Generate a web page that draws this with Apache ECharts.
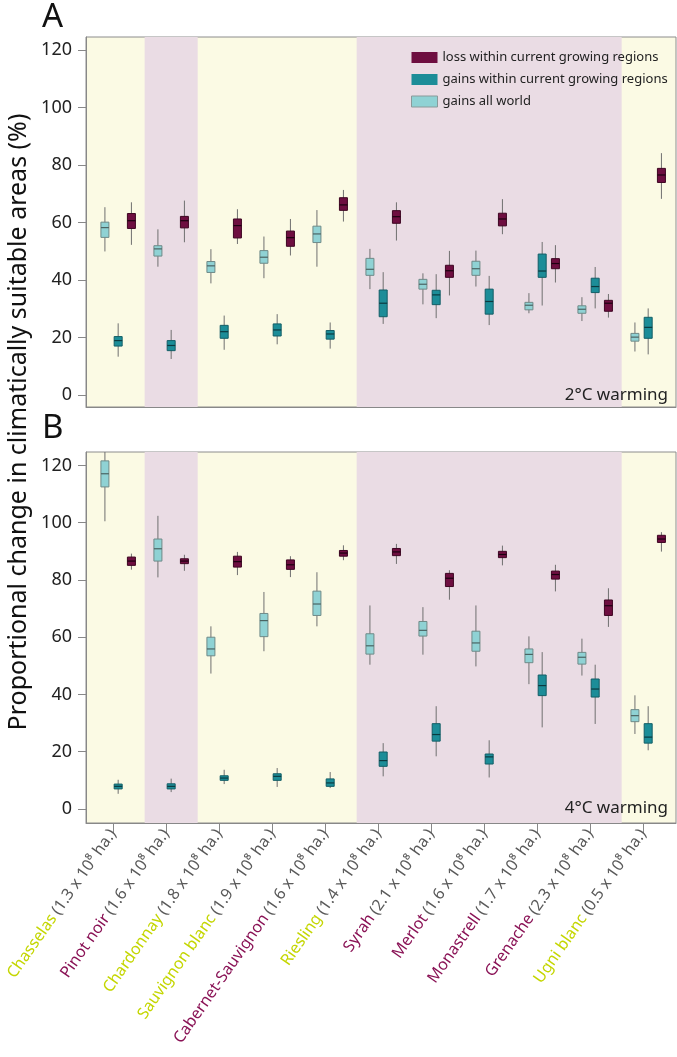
<!DOCTYPE html>
<html>
<head>
<meta charset="utf-8">
<script src="https://cdn.jsdelivr.net/npm/echarts@6/dist/echarts.min.js"></script>
<style>
html, body { margin: 0; padding: 0; background: #fff; }
#chartBox { width: 677px; height: 1057px; }
</style>
</head>
<body>
<div id="chartBox"></div>
<script>
// x axis: grape varieties and their current area
var varieties = ['Chasselas', 'Pinot noir', 'Chardonnay', 'Sauvignon blanc', 'Cabernet-Sauvignon',
  'Riesling', 'Syrah', 'Merlot', 'Monastrell', 'Grenache', 'Ugni blanc'];
var areas = ['1.3', '1.6', '1.8', '1.9', '1.6', '1.4', '2.1', '1.6', '1.7', '2.3', '0.5'];
var wineType = ['w', 'r', 'w', 'w', 'r', 'w', 'r', 'r', 'r', 'r', 'w'];   // label colour
var bandType = ['w', 'r', 'w', 'w', 'w', 'r', 'r', 'r', 'r', 'r', 'w'];   // background band
var yTicks = [0, 20, 40, 60, 80, 100, 120];

// boxes: [min, q1, median, q3, max]
// A - 2°C warming
var lossA = [
  [52.2, 57.9, 60.6, 63.1, 67.0], [53.1, 58.1, 60.6, 62.1, 67.6], [52.5, 54.6, 58.9, 61.2, 64.6],
  [48.5, 51.7, 54.7, 57.0, 61.2], [60.3, 64.2, 66.1, 68.6, 71.3], [53.7, 59.7, 62.0, 64.1, 67.0],
  [34.6, 40.9, 43.2, 45.1, 50.1], [55.9, 58.8, 61.2, 63.2, 68.1], [39.1, 43.9, 45.7, 47.4, 52.1],
  [26.9, 29.1, 31.9, 32.9, 35.1], [68.2, 73.9, 76.5, 78.8, 84.1]
];
var gainsInA = [
  [13.3, 17.0, 18.9, 20.3, 24.9], [12.5, 15.4, 17.2, 18.9, 22.6], [15.7, 19.7, 22.0, 24.2, 27.6],
  [17.6, 20.5, 22.6, 24.7, 28.1], [16.1, 19.4, 21.2, 22.4, 25.2], [24.7, 27.2, 31.9, 36.5, 42.7],
  [26.7, 31.4, 34.8, 36.4, 42.0], [24.3, 28.1, 32.5, 36.8, 41.4], [31.1, 40.9, 43.1, 49.0, 53.2],
  [30.1, 35.6, 37.7, 40.6, 44.5], [14.1, 19.7, 23.5, 27.0, 30.1]
];
var gainsWorldA = [
  [49.9, 54.8, 58.2, 60.1, 65.3], [44.6, 48.3, 50.8, 51.9, 57.6], [38.8, 42.6, 44.9, 46.4, 50.7],
  [40.6, 45.8, 47.9, 50.2, 55.1], [44.6, 53.0, 56.0, 58.7, 64.3], [36.8, 41.6, 43.7, 47.5, 50.8],
  [31.5, 36.8, 38.5, 40.2, 42.3], [37.7, 41.6, 43.9, 46.5, 50.2], [28.4, 29.6, 31.2, 32.2, 35.4],
  [25.7, 28.4, 29.8, 31.0, 34.0], [15.1, 18.7, 20.1, 21.4, 25.2]
];
// B - 4°C warming
var lossB = [
  [83.6, 85.1, 86.6, 88.0, 89.2], [83.2, 85.7, 86.6, 87.4, 88.8], [81.7, 84.5, 86.4, 88.3, 89.8],
  [81.0, 83.7, 85.3, 87.0, 88.3], [86.9, 88.3, 89.4, 90.3, 92.1], [85.6, 88.5, 89.8, 91.0, 92.6],
  [73.1, 77.7, 80.6, 82.3, 83.4], [85.1, 87.8, 88.9, 90.0, 92.0], [76.0, 80.3, 81.9, 83.1, 85.3],
  [63.6, 67.6, 71.0, 73.0, 77.1], [89.9, 93.1, 94.3, 95.6, 96.7]
];
var gainsInB = [
  [5.3, 7.0, 7.9, 8.7, 10.2], [5.9, 7.0, 7.9, 8.8, 10.6], [8.7, 10.0, 10.8, 11.6, 13.7],
  [7.7, 10.0, 11.4, 12.3, 14.3], [7.3, 7.9, 9.1, 10.5, 12.9], [11.4, 14.9, 16.9, 19.9, 23.0],
  [18.4, 23.7, 26.0, 29.8, 35.9], [11.0, 15.7, 18.2, 19.2, 24.0], [28.5, 39.6, 43.1, 46.8, 54.8],
  [29.7, 39.1, 41.9, 45.4, 50.4], [20.5, 23.0, 25.1, 29.8, 35.9]
];
var gainsWorldB = [
  [100.5, 112.5, 117.1, 121.6, 126], [80.9, 86.6, 90.9, 94.3, 102.4], [47.3, 53.5, 55.9, 60.0, 63.8],
  [55.1, 60.2, 65.8, 68.3, 75.8], [63.8, 67.6, 71.6, 76.1, 82.7], [50.4, 54.1, 57.0, 61.2, 71.1],
  [53.9, 60.4, 62.4, 65.5, 70.5], [49.8, 55.1, 58.0, 62.1, 71.1], [43.6, 51.1, 54.0, 55.9, 60.3],
  [46.6, 50.6, 53.0, 54.7, 59.5], [26.2, 30.5, 32.6, 34.7, 39.7]
];

var FONT = 'Noto Sans';
var LOSS = '#6e0e40', GAIN_IN = '#1c8d98', GAIN_WORLD = '#8fd2d4';
var names = ['loss within current growing regions', 'gains within current growing regions', 'gains all world'];
var xMin = -0.607, xMax = 10.525;

// pink bands from consecutive 'r' entries
function bands() {
  var out = [], start = null;
  for (var i = 0; i <= bandType.length; i++) {
    if (bandType[i] === 'r' && start === null) start = i;
    if (bandType[i] !== 'r' && start !== null) {
      out.push([{ xAxis: start - 0.5 }, { xAxis: i - 0.5 }]);
      start = null;
    }
  }
  return out;
}

function boxSeries(name, values, idx, shift, fill, stroke, medColor, withBands) {
  var s = {
    name: name,
    type: 'custom',
    xAxisIndex: idx,
    yAxisIndex: idx,
    clip: true,
    itemStyle: { color: fill },
    encode: { x: 0, y: [1, 2, 3, 4, 5] },
    data: values.map(function (v, i) { return [i].concat(v); }),
    renderItem: function (params, api) {
      var k = api.value(0);
      var band = api.size([1, 0])[0];
      var cx = api.coord([k, 0])[0] + shift * band;
      var y = function (d) { return api.coord([k, api.value(d)])[1]; };
      var w = 8;
      return {
        type: 'group',
        children: [
          { type: 'line', shape: { x1: cx, y1: y(1), x2: cx, y2: y(5) }, style: { stroke: '#707070', lineWidth: 1 } },
          { type: 'rect', shape: { x: cx - w / 2, y: y(4), width: w, height: y(2) - y(4) }, style: { fill: fill, stroke: stroke, lineWidth: 1 } },
          { type: 'line', shape: { x1: cx - w / 2, y1: y(3), x2: cx + w / 2, y2: y(3) }, style: { stroke: medColor, lineWidth: 1.2 } }
        ]
      };
    }
  };
  if (withBands) {
    s.markArea = { silent: true, itemStyle: { color: '#eadce4' }, data: bands() };
  }
  return s;
}

var labelRich = {
  w: { color: '#c4d600', fontFamily: FONT, fontSize: 16 },
  r: { color: '#8a1356', fontFamily: FONT, fontSize: 16 },
  g: { color: '#5a5a5a', fontFamily: FONT, fontSize: 16 }
};
var tickPos = varieties.map(function (v, i) { return i - 0.1; });

function xAxisFor(gi, showLabels) {
  return {
    gridIndex: gi, type: 'value', min: xMin, max: xMax,
    axisLine: { show: true, onZero: false, lineStyle: { color: '#888', width: 1 } },
    axisTick: { show: showLabels, length: 10, lineStyle: { color: '#888' }, customValues: tickPos },
    axisLabel: {
      show: showLabels, rotate: 55, margin: 8, customValues: tickPos, rich: labelRich,
      formatter: function (val) {
        var i = Math.round(val + 0.1);
        return '{' + wineType[i] + '|' + varieties[i] + '} {g|(' + areas[i] + ' x 10⁸ ha.)}';
      }
    },
    splitLine: { show: false }
  };
}
function yAxisFor(gi, min, max) {
  return {
    gridIndex: gi, type: 'value', min: min, max: max,
    axisLine: { show: true, onZero: false, lineStyle: { color: '#888' } },
    axisTick: { show: true, length: 8, lineStyle: { color: '#888' }, customValues: yTicks },
    axisLabel: { margin: 14, color: '#222', fontFamily: FONT, fontSize: 18, customValues: yTicks },
    splitLine: { show: false }
  };
}

var chart = echarts.init(document.getElementById('chartBox'));
var gridStyle = { show: true, backgroundColor: '#fbfae4', borderColor: '#8c8c8c', borderWidth: 1 };

chart.setOption({
  animation: false,
  grid: [
    Object.assign({ left: 86, top: 37, width: 590, height: 370 }, gridStyle),
    Object.assign({ left: 86, top: 452, width: 590, height: 371 }, gridStyle)
  ],
  xAxis: [xAxisFor(0, false), xAxisFor(1, true)],
  yAxis: [yAxisFor(0, -4.2, 124.5), yAxisFor(1, -4.9, 124.7)],
  legend: {
    orient: 'vertical', left: 406, top: 46, itemWidth: 26, itemHeight: 11, itemGap: 9,
    selectedMode: false,
    textStyle: { fontFamily: FONT, fontSize: 13, color: '#222' },
    data: [
      { name: names[0], icon: 'rect', itemStyle: { color: LOSS } },
      { name: names[1], icon: 'rect', itemStyle: { color: GAIN_IN } },
      { name: names[2], icon: 'rect', itemStyle: { color: GAIN_WORLD, borderColor: '#8a9a9a', borderWidth: 1 } }
    ]
  },
  graphic: [
    { type: 'text', left: 42, top: 1, style: { text: 'A', font: '33px "Noto Sans"', fill: '#111' } },
    { type: 'text', left: 42, top: 412, style: { text: 'B', font: '33px "Noto Sans"', fill: '#111' } },
    { type: 'text', x: 19, y: 422, rotation: Math.PI / 2,
      style: { text: 'Proportional change in climatically suitable areas (%)', font: '25px "Noto Sans"',
        fill: '#111', align: 'center', verticalAlign: 'middle' } },
    { type: 'text', x: 668, y: 395, z: 10,
      style: { text: '2°C warming', font: '17px "Noto Sans"', fill: '#222', align: 'right', verticalAlign: 'middle' } },
    { type: 'text', x: 668, y: 808, z: 10,
      style: { text: '4°C warming', font: '17px "Noto Sans"', fill: '#222', align: 'right', verticalAlign: 'middle' } }
  ],
  series: [
    boxSeries(names[1], gainsInA, 0, 0, GAIN_IN, '#135e66', '#0b3a40', true),
    boxSeries(names[2], gainsWorldA, 0, -0.25, GAIN_WORLD, '#6f8a88', '#4b6463', false),
    boxSeries(names[0], lossA, 0, 0.25, LOSS, '#3e0622', '#1c0010', false),
    boxSeries(names[1], gainsInB, 1, 0, GAIN_IN, '#135e66', '#0b3a40', true),
    boxSeries(names[2], gainsWorldB, 1, -0.25, GAIN_WORLD, '#6f8a88', '#4b6463', false),
    boxSeries(names[0], lossB, 1, 0.25, LOSS, '#3e0622', '#1c0010', false)
  ]
});
</script>
</body>
</html>
